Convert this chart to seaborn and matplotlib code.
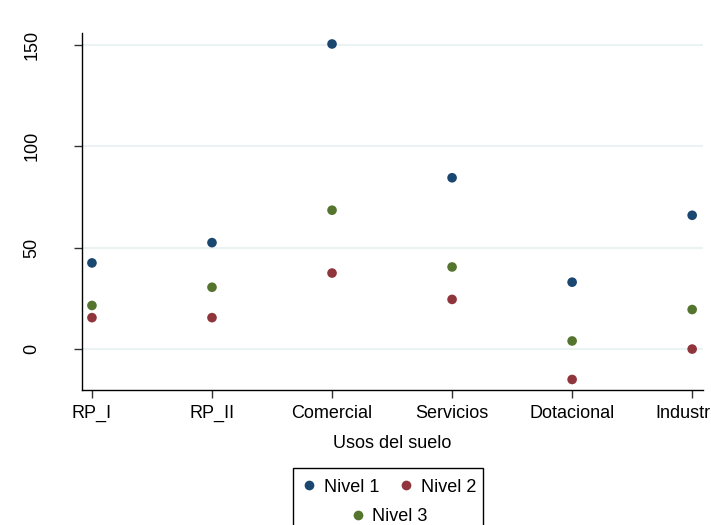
import pandas as pd
import matplotlib.pyplot as plt
import seaborn as sns
from matplotlib.patches import Rectangle

# Values
usos = ['RP_I', 'RP_II', 'Comercial', 'Servicios', 'Dotacional', 'Industrial']
nivel_1 = [42.5, 52.5, 150.5, 84.5, 33.0, 66.0]
nivel_2 = [15.5, 15.5, 37.5, 24.5, -15.0, 0.0]
nivel_3 = [21.5, 30.5, 68.5, 40.5, 4.0, 19.5]
yticks = [0, 50, 100, 150]

colors = {'Nivel 1': '#1a476f', 'Nivel 2': '#90353b', 'Nivel 3': '#55752f'}

df = pd.DataFrame({
    'uso': usos * 3,
    'valor': nivel_1 + nivel_2 + nivel_3,
    'nivel': ['Nivel 1'] * 6 + ['Nivel 2'] * 6 + ['Nivel 3'] * 6,
})

sns.set_style('white')
plt.rcParams['font.family'] = ['Liberation Sans', 'DejaVu Sans']
plt.rcParams['text.color'] = 'black'
plt.rcParams['xtick.color'] = 'black'
plt.rcParams['ytick.color'] = 'black'
plt.rcParams['axes.labelcolor'] = 'black'

fs = 13

fig = plt.figure(figsize=(7.11, 5.25), dpi=100)
ax = fig.add_axes([0.1153, 0.2571, 0.8734, 0.68])

sns.scatterplot(data=df, x='uso', y='valor', hue='nivel', palette=colors,
                s=48, edgecolor='none', ax=ax, legend=False, zorder=3)

ax.set_xlim(-0.083, 5.09)
ax.set_ylim(-20.2, 155.9)
ax.set_yticks(yticks)
ax.set_yticklabels([str(t) for t in yticks], rotation=90, va='center')
ax.yaxis.grid(True, color='#eaf2f3', linewidth=1.5, zorder=0)
ax.xaxis.grid(False)
for side in ['top', 'right']:
    ax.spines[side].set_visible(False)
for side in ['left', 'bottom']:
    ax.spines[side].set_color('black')
    ax.spines[side].set_linewidth(1.0)
ax.tick_params(axis='both', direction='out', length=6, width=1, color='#333333',
               labelsize=fs, bottom=True, left=True, pad=5)
ax.tick_params(axis='y', pad=24)
ax.set_xlabel('Usos del suelo', fontsize=fs, labelpad=9)
ax.set_ylabel('')

# legend: two entries on the first row, third centred below
handles = {k: plt.Line2D([], [], marker='o', linestyle='none', markersize=7,
                         markerfacecolor=v, markeredgecolor='none')
           for k, v in colors.items()}
fig.legend([handles['Nivel 1'], handles['Nivel 2']], ['Nivel 1', 'Nivel 2'],
           ncol=2, frameon=False, fontsize=fs, loc='center',
           bbox_to_anchor=(0.546, 0.072), handletextpad=0.3,
           columnspacing=1.0, handlelength=1.0)
fig.legend([handles['Nivel 3']], ['Nivel 3'], frameon=False, fontsize=fs,
           loc='center', bbox_to_anchor=(0.546, 0.016),
           handletextpad=0.3, handlelength=1.0)
fig.patches.append(Rectangle((0.412, -0.02), 0.267, 0.1286, transform=fig.transFigure,
                             fill=False, edgecolor='black', linewidth=1.0))

fig.savefig('out.png', dpi=100)
